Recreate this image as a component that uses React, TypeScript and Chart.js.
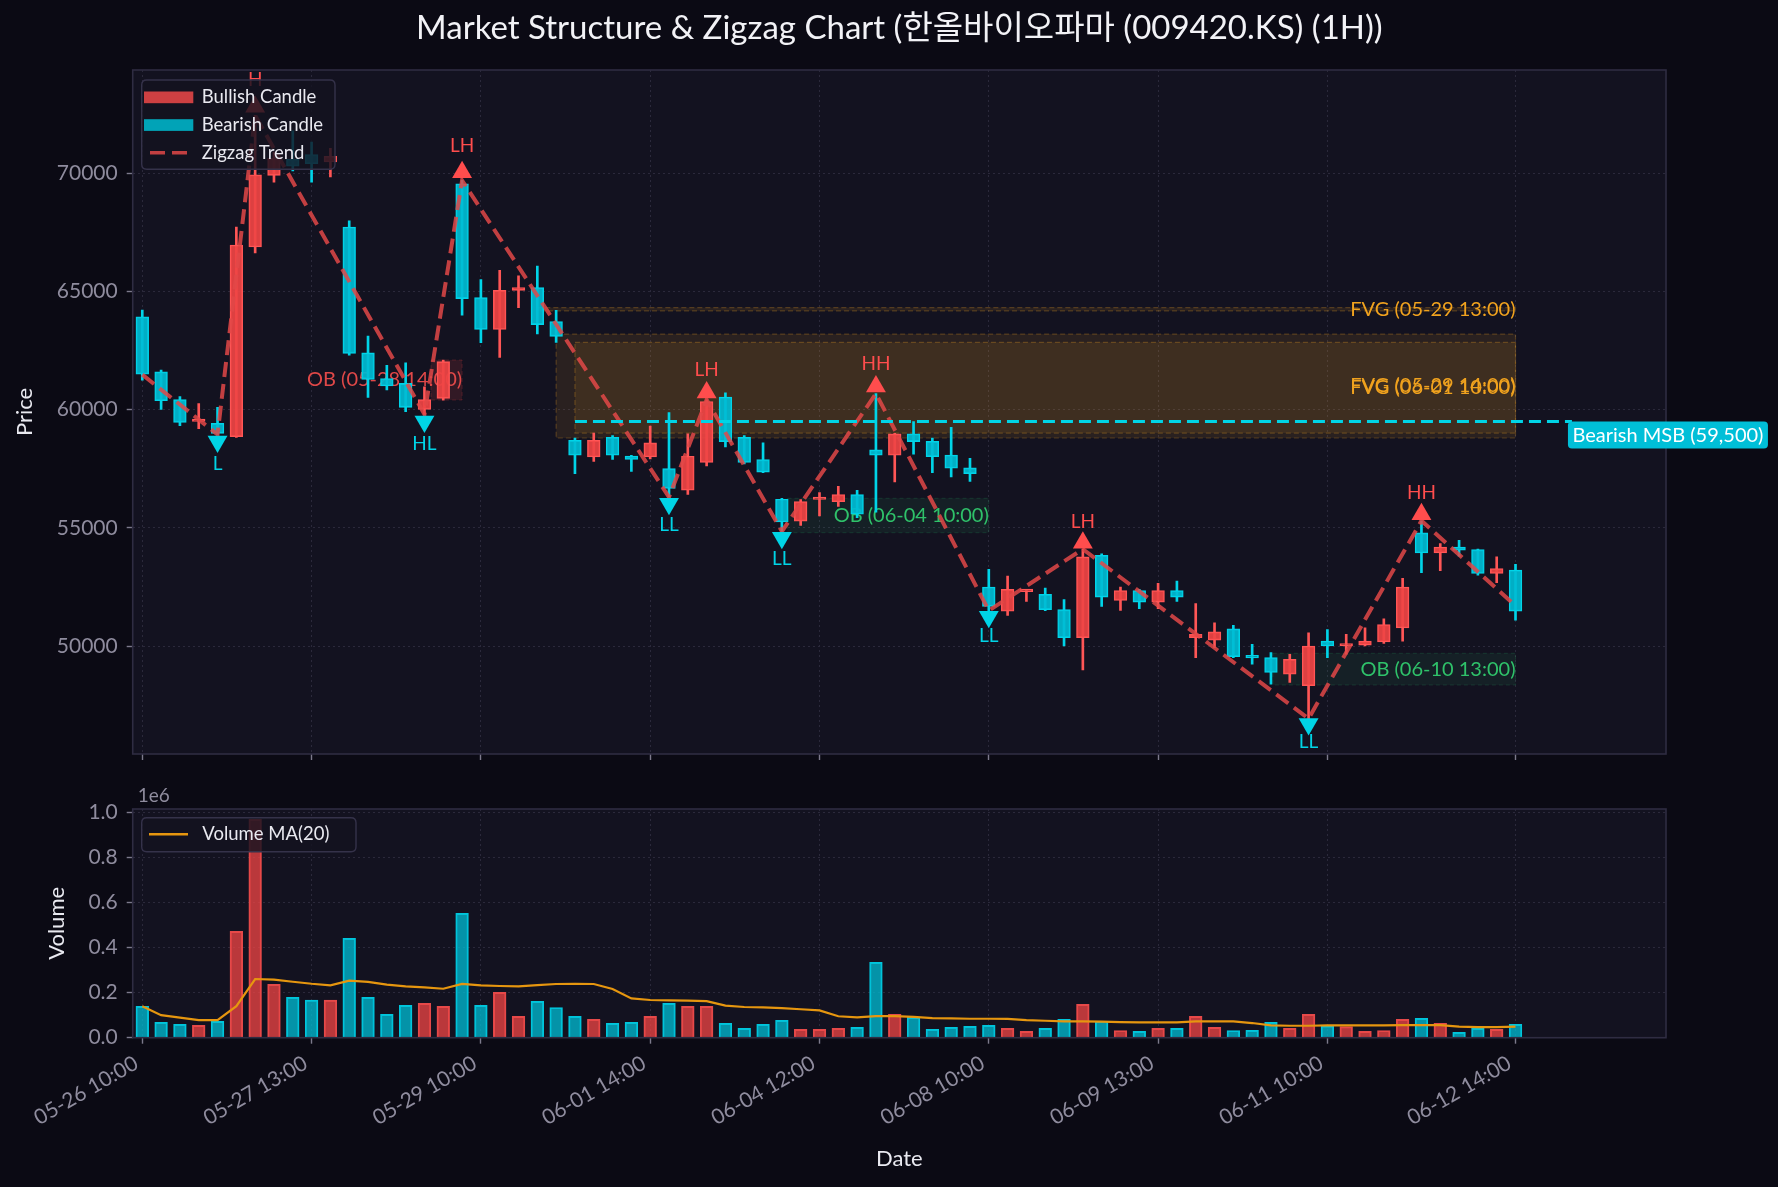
import React, { useEffect, useRef } from "react";
import { Chart, registerables } from "chart.js";

Chart.register(...registerables);

const FONT = "Lato, 'Noto Sans CJK KR', 'Noto Sans', sans-serif";
const TITLE = "Market Structure & Zigzag Chart (한올바이오파마 (009420.KS) (1H))";

// ---------- candle data (hourly) ----------
const opens = [
  63930, 61600, 60430, 59500, 59420, 58860, 66890, 69915, 70600, 70790,
  70480, 67730, 62400, 61320, 61110, 60010, 60480, 69560, 64740, 63390,
  65050, 65170, 63730, 58700, 58000, 58830, 58040, 58000, 57510, 56590,
  57770, 60530, 58830, 57890, 56210, 55280, 56200, 56110, 56410, 58300,
  58070, 58980, 58660, 58080, 57540, 52490, 51470, 52300, 52190, 51540,
  50350, 53840, 51930, 52350, 51860, 52350, 50350, 50250, 50730, 49600,
  49510, 48810, 48320, 50210, 50000, 50040, 50170, 50770, 54790, 53940,
  54190, 54080, 53070, 53210,
];
const highs = [
  64210, 61670, 60550, 60260, 60100, 67730, 72450, 70900, 71800, 71320,
  71060, 67990, 63110, 61880, 61980, 60970, 62100, 69700, 65500, 65900,
  65660, 66080, 64200, 58800, 59010, 58900, 58070, 59310, 59880, 58980,
  60420, 60710, 58900, 58600, 56250, 56200, 56490, 56760, 56590, 60680,
  59000, 59500, 58800, 59250, 57940, 53240, 52960, 52350, 52450, 51960,
  54100, 53900, 52490, 52400, 52650, 52750, 51790, 50980, 50870, 50070,
  49720, 49650, 50560, 50700, 50490, 50770, 51150, 52860, 55300, 54330,
  54470, 54100, 53770, 53460,
];
const lows = [
  61250, 60010, 59320, 59200, 58950, 58830, 66630, 69630, 70100, 69630,
  69850, 62310, 60520, 60830, 59910, 59800, 60400, 64000, 62830, 62210,
  64320, 63200, 62850, 57290, 57810, 57890, 57390, 57920, 56300, 56410,
  57620, 58420, 57700, 57330, 54850, 55100, 55500, 55910, 55430, 55660,
  56940, 58120, 57330, 57150, 56960, 51500, 51290, 51890, 51500, 50000,
  48990, 51680, 51510, 51580, 51580, 51890, 49510, 49930, 49510, 49230,
  48390, 48460, 46930, 49510, 49650, 50000, 50110, 50210, 53100, 53190,
  53800, 53000, 52680, 51090,
];
const closes = [
  61500, 60380, 59460, 59560, 59000, 66960, 69940, 70630, 70300, 70410,
  70720, 62380, 61280, 61000, 60100, 60430, 62030, 64700, 63390, 65050,
  65170, 63600, 63100, 58070, 58700, 58070, 57890, 58600, 56670, 58030,
  60340, 58650, 57770, 57360, 55250, 56110, 56260, 56410, 55580, 58070,
  58980, 58650, 58010, 57520, 57290, 51680, 52400, 52320, 51540, 50350,
  53770, 52070, 52350, 51860, 52350, 52070, 50490, 50600, 49550, 49500,
  48880, 49440, 50000, 50000, 50070, 50210, 50910, 52490, 53940, 54190,
  54050, 53070, 53280, 51470,
];
const volumes = [
  139000, 68000, 59000, 55000, 72000, 471000, 967000, 236000, 179000, 167000,
  167000, 440000, 179000, 103000, 143000, 152000, 139000, 551000, 143000, 201000,
  95000, 161000, 134000, 95000, 81000, 64000, 68000, 95000, 152000, 139000,
  139000, 64000, 41000, 59000, 77000, 37000, 37000, 41000, 46000, 334000,
  103000, 90000, 37000, 46000, 50000, 55000, 41000, 28000, 41000, 81000,
  148000, 72000, 32000, 28000, 41000, 41000, 95000, 46000, 32000, 33000,
  68000, 41000, 103000, 52000, 49000, 28000, 32000, 81000, 86000, 64000,
  24000, 41000, 37000, 59000,
];
const volumeMA = [
  139000, 100000, 89000, 78000, 78000, 140000, 260000, 257000, 248000, 239000,
  232000, 253000, 247000, 235000, 227000, 223000, 217000, 238000, 232000, 229000,
  227000, 233000, 238000, 239000, 238000, 216000, 174000, 167000, 165000, 164000,
  162000, 142000, 136000, 134000, 131000, 126000, 121000, 95000, 90000, 96000,
  96000, 92000, 87000, 86000, 84000, 84000, 83000, 78000, 75000, 72000,
  72000, 71000, 69000, 68000, 68000, 68000, 72000, 72000, 72000, 65000,
  55000, 53000, 53000, 55000, 55000, 55000, 55000, 56000, 56000, 56000,
  49000, 47000, 47000, 49000,
];

// ---------- axes ----------
const tickIdx = [0, 9, 18, 27, 36, 45, 54, 63, 73];
const tickLabels = [
  "05-26 10:00", "05-27 13:00", "05-29 10:00", "06-01 14:00", "06-04 12:00",
  "06-08 10:00", "06-09 13:00", "06-11 10:00", "06-12 14:00",
];
const priceTicks = [50000, 55000, 60000, 65000, 70000];
const volumeTicks = [0, 200000, 400000, 600000, 800000, 1000000];

// ---------- market structure ----------
const zigzagIdx = [0, 4, 6, 15, 17, 28, 30, 34, 39, 45, 50, 62, 68, 73];
const zigzagPrice = [61480, 58950, 72450, 59800, 69700, 56300, 60420, 54850, 60680, 51500, 54100, 46930, 55300, 51700];
const pivotIdx = [4, 6, 15, 17, 28, 30, 34, 39, 45, 50, 62, 68];
const pivotPrice = [58950, 72450, 59800, 69700, 56300, 60420, 54850, 60680, 51500, 54100, 46930, 55300];
const pivotLabel = ["L", "H", "HL", "LH", "LL", "LH", "LL", "HH", "LL", "LH", "LL", "HH"];

const fvgStart = [21, 22, 23];
const fvgLow = [64180, 58800, 59010];
const fvgHigh = [64320, 63200, 62850];
const fvgLabels = ["FVG (05-29 13:00)", "FVG (05-29 14:00)", "FVG (06-01 10:00)"];
const zoneEnd = 73;

const obStart = [15.35, 34.3, 60.1];
const obEnd = [17, 45, 73];
const obLow = [60408, 54794, 48350];
const obHigh = [62101, 56249, 49691];
const obBull = [false, true, true];
const obLabels = ["OB (05-28 14:00)", "OB (06-04 10:00)", "OB (06-10 13:00)"];

const msbPrice = 59500;
const msbStart = 23;
const msbEnd = 76;
const msbLabel = "Bearish MSB (59,500)";

// ---------- layout / style ----------
const W = 1778;
const H1 = 780;
const H2 = 407;
const PLOT_LEFT = 132.7;
const PLOT_RIGHT = 1666;
const P_TOP = 70;
const P_BOTTOM = 754;
const V_TOP = 29;
const V_BOTTOM = 257.7;
const X_MIN = -0.51;
const X_MAX = 81;
const P_MIN = 45431;
const P_MAX = 74371;
const V_MAX = 1013300;

const C = {
  fig: "#0b0a14",
  axes: "#131220",
  spine: "#2f2c42",
  grid: "#2b293b",
  tick: "#8f8c9e",
  tickMark: "#7d7a8c",
  text: "#e9e9f0",
  bullFill: "rgba(239,68,68,0.92)",
  bullEdge: "#ff5656",
  bearFill: "rgba(0,188,212,0.92)",
  bearEdge: "#00d4e8",
  volBullFill: "rgba(239,68,68,0.76)",
  volBullEdge: "#e44a4a",
  volBearFill: "rgba(0,188,212,0.76)",
  volBearEdge: "#00c6dc",
  zigzag: "rgba(226,72,72,0.85)",
  up: "#ff4d4d",
  down: "#00d4e6",
  msb: "#00d4e6",
  msbBox: "#00bfd8",
  fvg: "#f0a21e",
  obRed: "#e04848",
  obGreen: "#2fc26a",
  ma: "#e6960f",
};

const idx = opens.map((_, i) => i);
const bull = idx.map((i) => closes[i] >= opens[i]);

function font(size: number) {
  return `${size}px ${FONT}`;
}

function drawText(ctx: CanvasRenderingContext2D, s: string, x: number, y: number, size: number, color: string, align: CanvasTextAlign = "left", rot = 0) {
  ctx.save();
  ctx.font = font(size);
  ctx.fillStyle = color;
  ctx.textAlign = align;
  ctx.textBaseline = "middle";
  ctx.translate(x, y);
  if (rot) ctx.rotate(rot);
  ctx.fillText(s, 0, 0);
  ctx.restore();
}

function roundRect(ctx: CanvasRenderingContext2D, x: number, y: number, w: number, h: number, r: number) {
  ctx.beginPath();
  ctx.moveTo(x + r, y);
  ctx.lineTo(x + w - r, y);
  ctx.quadraticCurveTo(x + w, y, x + w, y + r);
  ctx.lineTo(x + w, y + h - r);
  ctx.quadraticCurveTo(x + w, y + h, x + w - r, y + h);
  ctx.lineTo(x + r, y + h);
  ctx.quadraticCurveTo(x, y + h, x, y + h - r);
  ctx.lineTo(x, y + r);
  ctx.quadraticCurveTo(x, y, x + r, y);
  ctx.closePath();
}

function xScale(showLabels: boolean, height: number) {
  return {
    type: "linear",
    min: X_MIN,
    max: X_MAX,
    offset: false,
    bounds: "data",
    afterBuildTicks: (s: any) => {
      s.ticks = tickIdx.map((v) => ({ value: v }));
    },
    afterFit: (s: any) => {
      s.height = height;
    },
    grid: {
      color: C.grid,
      lineWidth: 1,
      drawTicks: true,
      tickLength: 6,
      tickColor: C.tickMark,
      tickWidth: 1.4,
      offset: false,
    },
    border: { display: false, dash: [2, 3] },
    ticks: {
      display: showLabels,
      autoSkip: false,
      maxRotation: 30,
      minRotation: 30,
      color: C.tick,
      font: { family: FONT, size: 21 },
      padding: 7,
      labelOffset: -6,
      callback: (_v: any, i: number) => tickLabels[i] ?? "",
    },
  };
}

function yScale(min: number, max: number, ticks: number[], fmt: (v: number) => string) {
  return {
    type: "linear",
    min,
    max,
    bounds: "data",
    beginAtZero: false,
    afterBuildTicks: (s: any) => {
      s.ticks = ticks.map((v) => ({ value: v }));
    },
    afterFit: (s: any) => {
      s.width = PLOT_LEFT;
    },
    grid: {
      color: C.grid,
      lineWidth: 1,
      drawTicks: true,
      tickLength: 6,
      tickColor: C.tickMark,
      tickWidth: 1.4,
    },
    border: { display: false, dash: [2, 3] },
    ticks: {
      color: C.tick,
      font: { family: FONT, size: 21 },
      padding: 9,
      callback: (v: any) => fmt(Number(v)),
    },
  };
}

const bgPlugin = {
  id: "bg",
  beforeDraw(chart: any) {
    const { ctx, chartArea: a } = chart;
    ctx.save();
    ctx.fillStyle = C.axes;
    ctx.fillRect(a.left, a.top, a.right - a.left, a.bottom - a.top);
    ctx.restore();
  },
};

function drawFrame(chart: any) {
  const { ctx, chartArea: a } = chart;
  ctx.save();
  ctx.strokeStyle = C.spine;
  ctx.lineWidth = 1.6;
  ctx.strokeRect(a.left, a.top, a.right - a.left, a.bottom - a.top);
  ctx.restore();
}

const pricePlugin = {
  id: "priceDecor",
  beforeDatasetsDraw(chart: any) {
    const { ctx, chartArea: a } = chart;
    const xs = chart.scales.x;
    const ys = chart.scales.y;
    ctx.save();
    ctx.beginPath();
    ctx.rect(a.left, a.top, a.right - a.left, a.bottom - a.top);
    ctx.clip();
    // FVG zones
    fvgStart.forEach((s, k) => {
      const x0 = xs.getPixelForValue(s);
      const x1 = xs.getPixelForValue(zoneEnd);
      const y0 = ys.getPixelForValue(fvgHigh[k]);
      const y1 = ys.getPixelForValue(fvgLow[k]);
      ctx.fillStyle = "rgba(245,166,35,0.10)";
      ctx.fillRect(x0, y0, x1 - x0, y1 - y0);
      ctx.strokeStyle = "rgba(245,166,35,0.26)";
      ctx.lineWidth = 1.2;
      ctx.setLineDash([5, 3]);
      ctx.strokeRect(x0, y0, x1 - x0, y1 - y0);
      ctx.setLineDash([]);
    });
    // Order blocks
    obStart.forEach((s, k) => {
      const x0 = xs.getPixelForValue(s);
      const x1 = xs.getPixelForValue(obEnd[k]);
      const y0 = ys.getPixelForValue(obHigh[k]);
      const y1 = ys.getPixelForValue(obLow[k]);
      ctx.fillStyle = obBull[k] ? "rgba(46,204,113,0.08)" : "rgba(239,68,68,0.14)";
      ctx.fillRect(x0, y0, x1 - x0, y1 - y0);
      ctx.strokeStyle = obBull[k] ? "rgba(46,204,113,0.16)" : "rgba(239,68,68,0.22)";
      ctx.lineWidth = 1;
      ctx.setLineDash([4, 3]);
      ctx.strokeRect(x0, y0, x1 - x0, y1 - y0);
      ctx.setLineDash([]);
    });
    ctx.restore();
    // zone labels (below candles)
    fvgStart.forEach((_s, k) => {
      const x = xs.getPixelForValue(zoneEnd);
      const y = ys.getPixelForValue((fvgHigh[k] + fvgLow[k]) / 2);
      drawText(ctx, fvgLabels[k], x, y, 20, C.fvg, "right");
    });
    obStart.forEach((_s, k) => {
      const x = xs.getPixelForValue(obEnd[k]);
      const y = ys.getPixelForValue((obHigh[k] + obLow[k]) / 2);
      drawText(ctx, obLabels[k], x, y, 20, obBull[k] ? C.obGreen : C.obRed, "right");
    });
  },
  afterDatasetsDraw(chart: any) {
    const { ctx, chartArea: a } = chart;
    const xs = chart.scales.x;
    const ys = chart.scales.y;
    drawFrame(chart);
    // pivot labels
    pivotIdx.forEach((p, k) => {
      const isHigh = pivotLabel[k].endsWith("H");
      const y = ys.getPixelForValue(pivotPrice[k] * (isHigh ? 1.021 : 0.979));
      drawText(ctx, pivotLabel[k], xs.getPixelForValue(p), y, 19, isHigh ? C.up : C.down, "center");
    });
    // MSB label
    ctx.save();
    ctx.font = font(20);
    const tw = ctx.measureText(msbLabel).width;
    const lx = xs.getPixelForValue(msbEnd);
    const ly = ys.getPixelForValue(msbPrice);
    ctx.fillStyle = C.msbBox;
    roundRect(ctx, lx - 4, ly, tw + 9, 27, 4);
    ctx.fill();
    ctx.restore();
    drawText(ctx, msbLabel, lx + 0.5, ly + 14, 20, "#ffffff", "left");
    // legend
    ctx.save();
    const lgX = 141.7, lgY = 80, lgW = 193.3, lgH = 89.3;
    roundRect(ctx, lgX, lgY, lgW, lgH, 5);
    ctx.fillStyle = "rgba(19,18,32,0.82)";
    ctx.fill();
    ctx.strokeStyle = "#35324a";
    ctx.lineWidth = 1.4;
    ctx.stroke();
    const rows = [97.3, 125, 152.7];
    ctx.fillStyle = "rgba(226,70,70,0.9)";
    ctx.fillRect(144, rows[0] - 5.8, 49.3, 11.7);
    ctx.fillStyle = "rgba(0,180,200,0.9)";
    ctx.fillRect(144, rows[1] - 5.8, 49.3, 11.7);
    ctx.strokeStyle = C.zigzag;
    ctx.lineWidth = 3.6;
    ctx.setLineDash([15, 7]);
    ctx.beginPath();
    ctx.moveTo(150, rows[2]);
    ctx.lineTo(188, rows[2]);
    ctx.stroke();
    ctx.setLineDash([]);
    ctx.restore();
    drawText(ctx, "Bullish Candle", 201.7, rows[0], 18.5, C.text);
    drawText(ctx, "Bearish Candle", 201.7, rows[1], 18.5, C.text);
    drawText(ctx, "Zigzag Trend", 201.7, rows[2], 18.5, C.text);
    // title and axis title
    drawText(ctx, TITLE, (a.left + a.right) / 2, 28, 33, "#f2f2f6", "center");
    drawText(ctx, "Price", 25, (P_TOP + P_BOTTOM) / 2, 22, C.text, "center", -Math.PI / 2);
  },
};

const volumePlugin = {
  id: "volDecor",
  afterDatasetsDraw(chart: any) {
    const { ctx, chartArea: a } = chart;
    drawFrame(chart);
    ctx.save();
    const lgX = 141.7, lgY = 37.7, lgW = 214.3, lgH = 34;
    roundRect(ctx, lgX, lgY, lgW, lgH, 5);
    ctx.fillStyle = "rgba(19,18,32,0.82)";
    ctx.fill();
    ctx.strokeStyle = "#35324a";
    ctx.lineWidth = 1.4;
    ctx.stroke();
    ctx.strokeStyle = C.ma;
    ctx.lineWidth = 2.4;
    ctx.beginPath();
    ctx.moveTo(149, 54.3);
    ctx.lineTo(188, 54.3);
    ctx.stroke();
    ctx.restore();
    drawText(ctx, "Volume MA(20)", 202.3, 54.3, 18.5, C.text);
    drawText(ctx, "1e6", a.left + 5, 16, 19, C.tick, "left");
    drawText(ctx, "Volume", 56.7, (V_TOP + V_BOTTOM) / 2, 22, C.text, "center", -Math.PI / 2);
    drawText(ctx, "Date", (a.left + a.right) / 2, 379, 22, C.text, "center");
  },
};

function priceConfig(): any {
  const highMarks = pivotIdx
    .map((p, k) => ({ p, k }))
    .filter(({ k }) => pivotLabel[k].endsWith("H"))
    .map(({ p, k }) => ({ x: p, y: pivotPrice[k] * 1.005 }));
  const lowMarks = pivotIdx
    .map((p, k) => ({ p, k }))
    .filter(({ k }) => pivotLabel[k].endsWith("L"))
    .map(({ p, k }) => ({ x: p, y: pivotPrice[k] * 0.995 }));
  return {
    type: "bar",
    data: {
      datasets: [
        {
          type: "scatter",
          data: highMarks,
          pointStyle: "triangle",
          pointRadius: 11.5,
          pointBackgroundColor: C.up,
          pointBorderWidth: 0,
          order: 1,
        },
        {
          type: "scatter",
          data: lowMarks,
          pointStyle: "triangle",
          pointRotation: 180,
          pointRadius: 11.5,
          pointBackgroundColor: C.down,
          pointBorderWidth: 0,
          order: 1,
        },
        {
          type: "line",
          data: [
            { x: msbStart, y: msbPrice },
            { x: msbEnd, y: msbPrice },
          ],
          borderColor: C.msb,
          borderWidth: 3,
          borderDash: [12, 6],
          pointRadius: 0,
          fill: false,
          order: 2,
        },
        {
          type: "line",
          data: zigzagIdx.map((p, k) => ({ x: p, y: zigzagPrice[k] })),
          borderColor: C.zigzag,
          borderWidth: 4,
          borderDash: [15, 7],
          pointRadius: 0,
          tension: 0,
          fill: false,
          order: 3,
        },
        {
          type: "bar",
          data: idx.map((i) => ({ x: i, y: [Math.min(opens[i], closes[i]), Math.max(opens[i], closes[i])] })),
          backgroundColor: idx.map((i) => (bull[i] ? C.bullFill : C.bearFill)),
          borderColor: idx.map((i) => (bull[i] ? C.bullEdge : C.bearEdge)),
          borderWidth: 1.3,
          borderSkipped: false,
          barThickness: 12.7,
          grouped: false,
          minBarLength: 2.5,
          order: 4,
        },
        {
          type: "bar",
          data: idx.map((i) => ({ x: i, y: [lows[i], highs[i]] })),
          backgroundColor: idx.map((i) => (bull[i] ? C.bullEdge : C.bearEdge)),
          borderWidth: 0,
          barThickness: 2,
          grouped: false,
          order: 5,
        },
      ],
    },
    options: {
      animation: false,
      responsive: false,
      devicePixelRatio: 1,
      events: [],
      layout: { padding: { left: 0, top: P_TOP, right: W - PLOT_RIGHT, bottom: 0 } },
      plugins: { legend: { display: false }, tooltip: { enabled: false }, title: { display: false } },
      scales: {
        x: xScale(false, H1 - P_BOTTOM),
        y: yScale(P_MIN, P_MAX, priceTicks, (v) => String(v)),
      },
    },
    plugins: [bgPlugin, pricePlugin],
  };
}

function volumeConfig(): any {
  return {
    type: "bar",
    data: {
      datasets: [
        {
          type: "line",
          data: idx.map((i) => ({ x: i, y: volumeMA[i] })),
          borderColor: C.ma,
          borderWidth: 2.2,
          pointRadius: 0,
          tension: 0,
          fill: false,
          order: 1,
        },
        {
          type: "bar",
          data: idx.map((i) => ({ x: i, y: volumes[i] })),
          backgroundColor: idx.map((i) => (bull[i] ? C.volBullFill : C.volBearFill)),
          borderColor: idx.map((i) => (bull[i] ? C.volBullEdge : C.volBearEdge)),
          borderWidth: 1.3,
          borderSkipped: "bottom",
          barThickness: 12.7,
          grouped: false,
          order: 2,
        },
      ],
    },
    options: {
      animation: false,
      responsive: false,
      devicePixelRatio: 1,
      events: [],
      layout: { padding: { left: 0, top: V_TOP, right: W - PLOT_RIGHT, bottom: 0 } },
      plugins: { legend: { display: false }, tooltip: { enabled: false }, title: { display: false } },
      scales: {
        x: xScale(true, H2 - V_BOTTOM),
        y: yScale(0, V_MAX, volumeTicks, (v) => (v / 1e6).toFixed(1)),
      },
    },
    plugins: [bgPlugin, volumePlugin],
  };
}

export default function App() {
  const priceRef = useRef<HTMLCanvasElement>(null);
  const volRef = useRef<HTMLCanvasElement>(null);

  useEffect(() => {
    document.body.style.margin = "0";
    document.body.style.background = C.fig;
    Chart.defaults.font.family = FONT;
    const c1 = new Chart(priceRef.current as HTMLCanvasElement, priceConfig());
    const c2 = new Chart(volRef.current as HTMLCanvasElement, volumeConfig());
    return () => {
      c1.destroy();
      c2.destroy();
    };
  }, []);

  return (
    <div style={{ position: "relative", width: W, height: H1 + H2, background: C.fig, overflow: "hidden" }}>
      <canvas ref={priceRef} width={W} height={H1} style={{ position: "absolute", left: 0, top: 0, width: W, height: H1 }} />
      <canvas ref={volRef} width={W} height={H2} style={{ position: "absolute", left: 0, top: H1, width: W, height: H2 }} />
    </div>
  );
}
